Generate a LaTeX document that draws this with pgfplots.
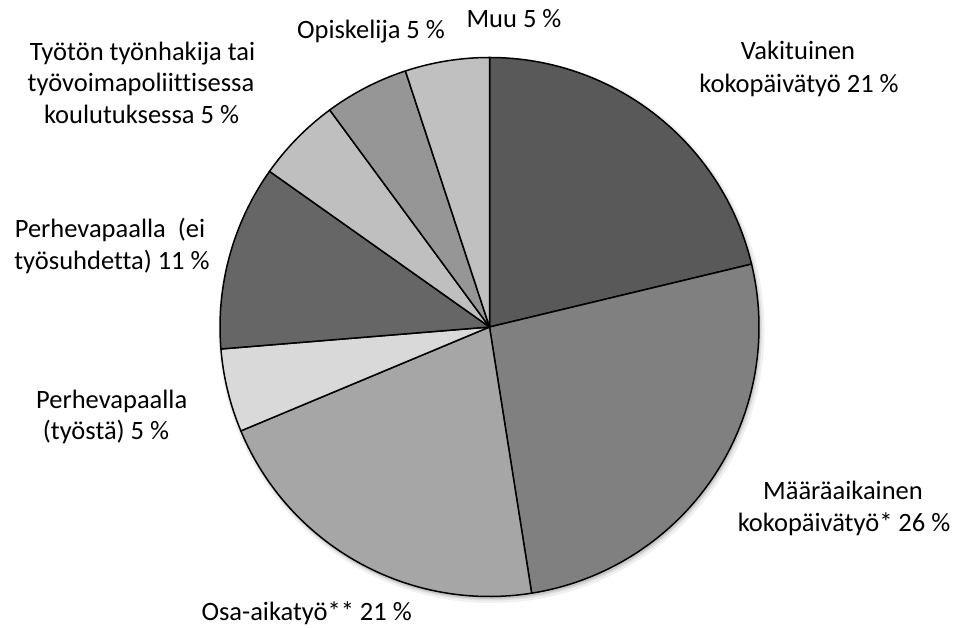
\documentclass[border=0pt]{standalone}
\usepackage{pgfplots}
\pgfplotsset{compat=1.18}
\usepackage{pgfplotstable}
\usepackage{fontspec}
\setmainfont{Carlito}[Ligatures={NoCommon}]
\definecolor{c0}{HTML}{595959}
\definecolor{c1}{HTML}{808080}
\definecolor{c2}{HTML}{A6A6A6}
\definecolor{c3}{HTML}{D9D9D9}
\definecolor{c4}{HTML}{666666}
\definecolor{c5}{HTML}{BFBFBF}
\definecolor{c6}{HTML}{969696}
\definecolor{c7}{HTML}{C0C0C0}
% share (%) of each slice, clockwise from 12 o'clock
\pgfplotstableread{
idx value
0 21.25
1 26.25
2 21.2
3 5.0
4 11.1
5 5.1
6 5.05
7 5.05
}\piedata
\begin{document}
\begin{tikzpicture}
\begin{axis}[
  x=1bp, y=1bp,
  xmin=0, xmax=955, ymin=0, ymax=628,
  hide axis, clip=false,
]
\path (axis cs:0,0) rectangle (axis cs:955,628);
% soft shadow
\fill[black, opacity=0.06] (axis cs:491.5,298) circle[radius=273bp];
\fill[black, opacity=0.08] (axis cs:491,298.5) circle[radius=271bp];
\fill[black, opacity=0.10] (axis cs:490.5,299) circle[radius=270bp];
\def\startangle{90}
\pgfplotsinvokeforeach{0,...,7}{%
  \pgfplotstablegetelem{#1}{value}\of\piedata
  \pgfmathsetmacro{\endangle}{\startangle-3.6*\pgfplotsretval}
  \edef\temp{\noexpand\filldraw[fill=c#1, draw=black, line width=1.5bp, line join=round]
    (axis cs:489.5,301) -- ++(\startangle:269.5bp)
    arc[start angle=\startangle, end angle=\endangle, radius=269.5bp] -- cycle;}%
  \temp
  \global\let\startangle\endangle
}
\begin{scope}[every node/.style={anchor=base, inner sep=0pt, font=\fontsize{26.5bp}{30bp}\selectfont}]
\node at (axis cs:371,589) {Opiskelija 5 \%};
\node at (axis cs:514,600.3) {Muu 5 \%};
\node at (axis cs:798,568.7) {Vakituinen};
\node at (axis cs:799,535.3) {kokopäivätyö 21 \%};
\node at (axis cs:843,128.7) {Määräaikainen};
\node at (axis cs:844,96.3) {kokopäivätyö* 26 \%};
\node at (axis cs:306.7,7) {Osa-aikatyö** 21 \%};
\node at (axis cs:110,390.7) {Perhevapaalla\ \ (ei};
\node at (axis cs:112,358.7) {työsuhdetta) 11 \%};
\node at (axis cs:111.7,219.7) {Perhevapaalla};
\node at (axis cs:106,188) {(työstä) 5 \%};
\node at (axis cs:142.5,567) {Työtön työnhakija tai};
\node at (axis cs:141,536) {työvoimapoliittisessa};
\node at (axis cs:141.5,504.7) {koulutuksessa 5 \%};
\end{scope}
\end{axis}
\end{tikzpicture}
\end{document}
